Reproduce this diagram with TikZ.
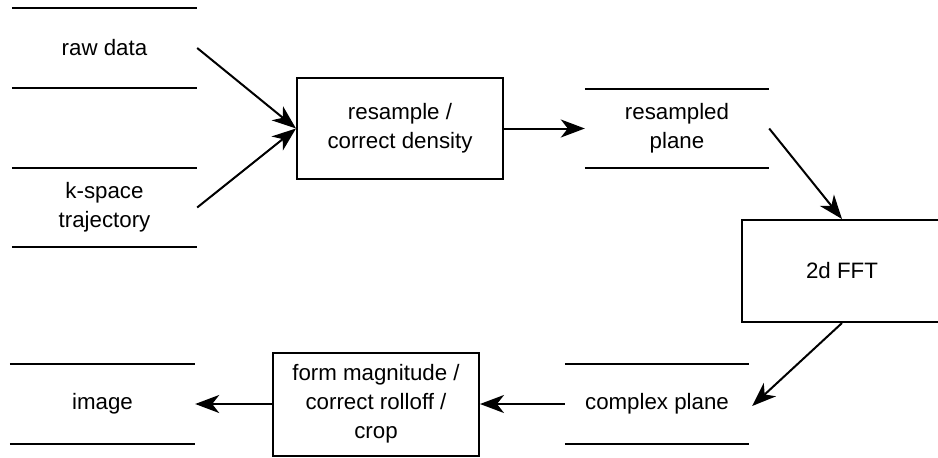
\documentclass[tikz,border=0pt]{standalone}
\usepackage{fontspec}
\setmainfont{Liberation Sans}
\usetikzlibrary{arrows.meta}
\begin{document}
\begin{tikzpicture}[x=1pt,y=-1pt,
  every node/.style={font=\fontsize{22.3}{29}\selectfont, align=center, inner sep=0pt},
  store/.style={minimum width=185pt, minimum height=79pt},
  procbox/.style={draw, line width=2pt},
  storeline/.style={line width=2pt},
  flow/.style={line width=2pt, -{Stealth[length=24pt,width=18pt,inset=7pt]}}]
\useasboundingbox (0,0) rectangle (938,458);
% data stores
\node[store] (raw) at (104.5,48) {raw data};
\node[store] (kspace) at (104.5,207.5) {k-space\\trajectory};
\node[store, minimum width=184pt] (resampled) at (677,128.5) {resampled\\plane};
\node[store, minimum width=184pt, minimum height=80pt] (complex) at (657,404) {complex plane};
\node[store] (image) at (102.5,404) {image};
\foreach \s in {raw,kspace,resampled,complex,image}{
  \draw[storeline] (\s.north west) -- (\s.north east) (\s.south west) -- (\s.south east);
}
% process boxes
\node[procbox, minimum width=206pt, minimum height=101pt] (resample) at (400,128.5) {resample /\\correct density};
\node[procbox, minimum width=200pt, minimum height=102pt] (fft) at (842,271) {2d FFT};
\node[procbox, minimum width=206pt, minimum height=103pt] (form) at (376,404) {form magnitude /\\correct rolloff /\\crop};
% connectors
\draw[flow] (raw.east) -- (resample.west);
\draw[flow] (kspace.east) -- (resample.west);
\draw[flow] (resample.east) -- (resampled.west);
\draw[flow] (resampled.east) -- (fft.north);
\draw[flow] (fft.south) -- ([xshift=3pt,yshift=-2pt]complex.east);
\draw[flow] (complex.west) -- (form.east);
\draw[flow] (form.west) -- (image.east);
\end{tikzpicture}
\end{document}
